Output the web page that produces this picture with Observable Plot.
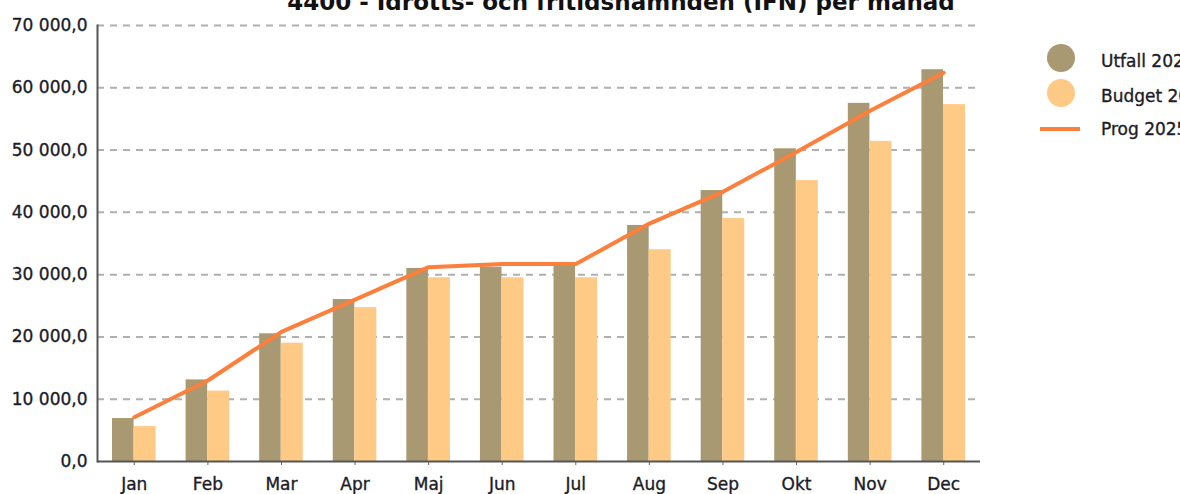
<!DOCTYPE html>
<html>
<head>
<meta charset="utf-8">
<script src="https://cdn.jsdelivr.net/npm/d3@7"></script>
<script src="https://cdn.jsdelivr.net/npm/@observablehq/plot@0.6"></script>
<style>
  html, body { margin: 0; padding: 0; background: #fff; }
  body { width: 1180px; height: 494px; overflow: hidden; position: relative; font-family: "DejaVu Sans", sans-serif; }
  #title { position: absolute; left: 0; top: -11px; width: 1242px; text-align: center; font: bold 23px "DejaVu Sans", sans-serif; line-height: 27px; color: #111; white-space: nowrap; }
  #chart { position: absolute; left: 0; top: 0; }
  #chart svg text { stroke: #1c1c28; stroke-width: 0.35px; }
  .leg { position: absolute; left: 1040px; font: 17px "DejaVu Sans", sans-serif; color: #1c1c28; white-space: nowrap; -webkit-text-stroke: 0.35px #1c1c28; }
  .leg .sw { position: absolute; }
  .leg .lab { position: absolute; left: 61px; top: -10px; line-height: 20px; }
</style>
</head>
<body>
<div id="title">4400 - Idrotts- och fritidsnämnden (IFN) per månad</div>
<div id="chart"></div>
<div id="legend"></div>
<script>
const months = ["Jan","Feb","Mar","Apr","Maj","Jun","Jul","Aug","Sep","Okt","Nov","Dec"];
const utfall = [6900, 13100, 20500, 26000, 31000, 31200, 31400, 37900, 43500, 50200, 57500, 62900];
const budget = [5600, 11300, 19000, 24700, 29500, 29500, 29500, 34000, 39000, 45100, 51400, 57300];
const prog   = [7100, 13000, 20800, 26000, 31200, 31700, 31700, 38200, 43300, 49700, 56300, 62400];
const yTicks = [0, 10000, 20000, 30000, 40000, 50000, 60000, 70000];
const seriesNames = ["Utfall 2025", "Budget 2025", "Prog 2025"];
const colors = ["#a89972", "#ffc986", "#fd7f3c"];

const rows = months.map((m, i) => ({month: m, utfall: utfall[i], budget: budget[i], prog: prog[i]}));
const sv = d3.formatLocale({decimal: ",", thousands: " ", grouping: [3]});
const fmt = sv.format(",.1f");

const chart = Plot.plot({
  width: 1180,
  height: 494,
  marginLeft: 97,
  marginRight: 200,
  marginTop: 25,
  marginBottom: 33,
  style: {fontFamily: "DejaVu Sans, sans-serif", color: "#1c1c28", background: "transparent"},
  x: {type: "band", domain: months, padding: 0, round: false},
  y: {domain: [0, 70000]},
  marks: [
    Plot.gridY(yTicks.slice(1), {stroke: "#b0b0b0", strokeOpacity: 1, strokeWidth: 2, strokeDasharray: "7,6"}),
    Plot.barY(rows, {x: "month", y: "utfall", fill: colors[0], insetLeft: 15, insetRight: 37}),
    Plot.barY(rows, {x: "month", y: "budget", fill: colors[1], insetLeft: 36.6, insetRight: 15}),
    Plot.lineY(rows, {x: "month", y: "prog", stroke: colors[2], strokeWidth: 4}),
    Plot.axisY({ticks: yTicks, tickFormat: fmt, tickSize: 0, tickPadding: 10, fontSize: 17, label: null}),
    Plot.axisX({tickSize: 4, tickPadding: 12, fontSize: 17, label: null, stroke: "#666"}),
    Plot.ruleY([0], {stroke: "#555", strokeWidth: 2}),
    Plot.frame({anchor: "left", stroke: "#555", strokeWidth: 2})
  ]
});
document.getElementById("chart").appendChild(chart);

// legend
const legend = document.getElementById("legend");
const swTops = [58, 93, 129];
const labTops = [61, 96, 129];
seriesNames.forEach((name, i) => {
  const item = document.createElement("div");
  item.className = "leg";
  item.style.top = "0px";
  const sw = document.createElement("div");
  sw.className = "sw";
  if (i < 2) {
    Object.assign(sw.style, {left: "7px", top: (swTops[i] - 14) + "px", width: "28px", height: "28px", borderRadius: "50%", background: colors[i]});
  } else {
    Object.assign(sw.style, {left: "0px", top: (swTops[i] - 2) + "px", width: "40px", height: "4px", background: colors[i]});
  }
  const lab = document.createElement("div");
  lab.className = "lab";
  lab.style.top = (labTops[i] - 10) + "px";
  lab.textContent = name;
  item.appendChild(sw);
  item.appendChild(lab);
  legend.appendChild(item);
});
</script>
</body>
</html>
